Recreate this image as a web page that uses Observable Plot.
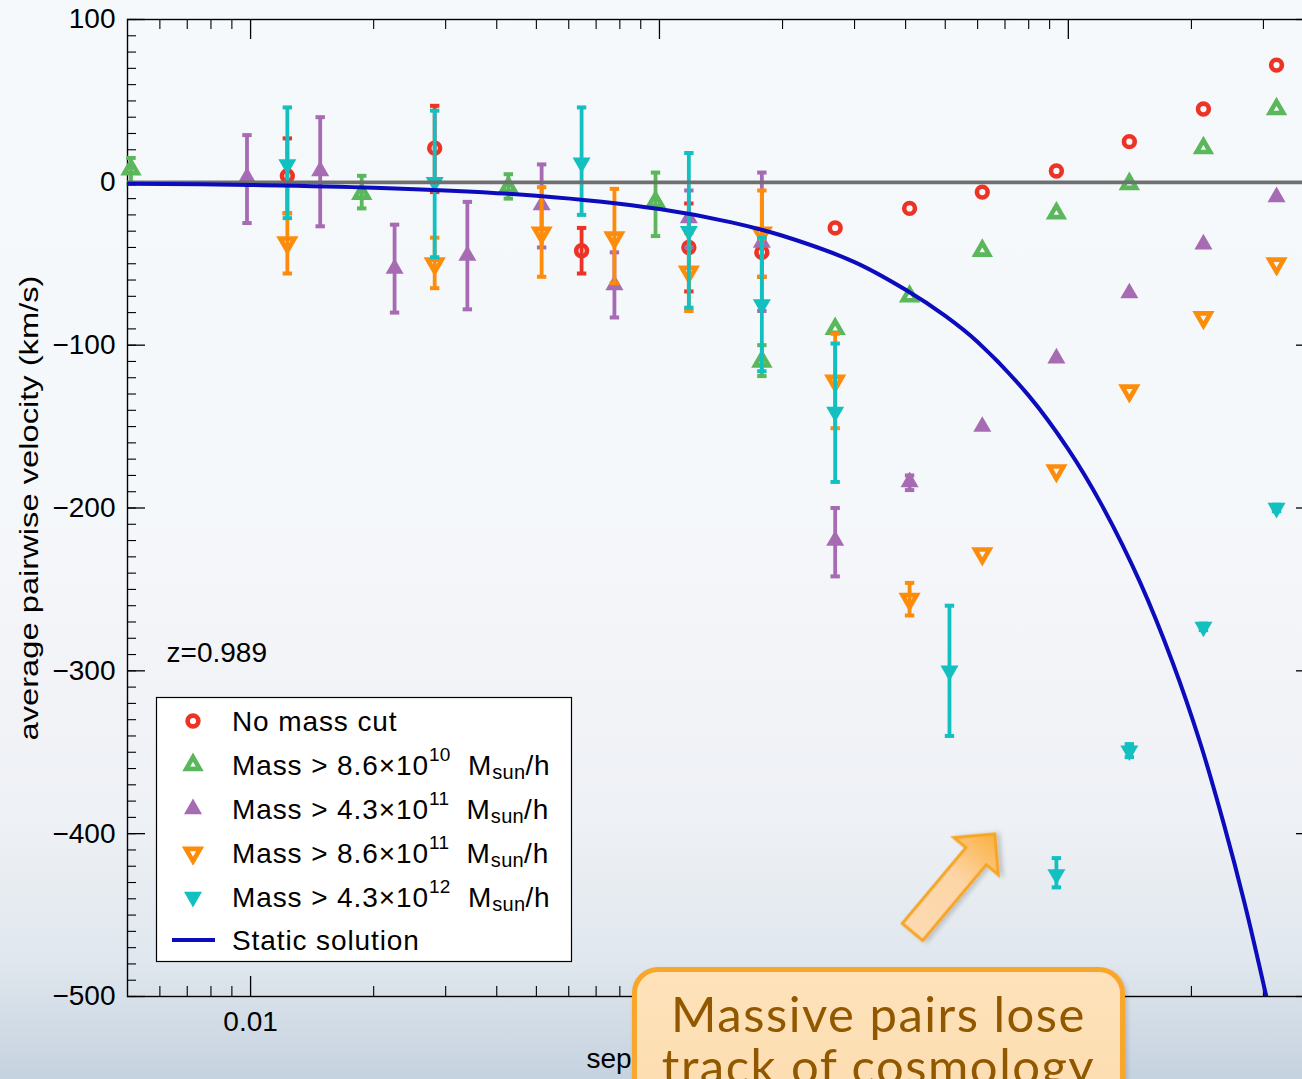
<!DOCTYPE html>
<html>
<head>
<meta charset="utf-8">
<script src="https://cdn.jsdelivr.net/npm/d3@7"></script>
<script src="https://cdn.jsdelivr.net/npm/@observablehq/plot@0.6"></script>
<style>
html, body { margin:0; padding:0; }
body {
  width:1302px; height:1079px; overflow:hidden; position:relative;
  background: linear-gradient(to bottom, #f6f9fb 0%, #f5f8fa 45%, #f3f4f8 60%, #eef1f5 76%, #e0e7ee 89%, #c5d2df 100%);
  font-family: "Liberation Sans", Arial, Helvetica, sans-serif;
}
#chart { position:absolute; left:0; top:0; width:1320px; height:1079px; }
#chart svg { max-width:none !important; width:1320px; height:1079px; }
#overlay { position:absolute; left:0; top:0; pointer-events:none; }
#callout {
  position:absolute; left:632px; top:967px; width:493px; height:170px;
  box-sizing:border-box; border:5px solid #f8a72c; border-radius:26px;
  background: linear-gradient(to bottom, #fee2ba 0%, #fddcae 100%);
  color:#925800; font-family: Lato, "Open Sans", sans-serif; font-size:49px;
  letter-spacing:1.5px;
  line-height:52px; text-align:center; padding-top:15px;
  box-shadow: 2px 3px 5px rgba(0,0,0,0.18);
}
</style>
</head>
<body>
<div id="chart"></div>
<svg id="overlay" width="1302" height="1079"></svg>
<div id="callout">Massive pairs lose<br>track of cosmology</div>
<script>
// ---------------- data ----------------
// No mass cut (red open circles)
const redSep = [0.0123, 0.0282, 0.0645, 0.118, 0.178, 0.269, 0.409, 0.616, 0.935, 1.41, 2.14, 3.23];
const redV   = [4, 21, -42, -40, -43, -28, -16, -6, 7, 25, 45, 72];
const redHi  = [27, 47, -28, -13, -34, null, null, null, null, null, null, null];
const redLo  = [-19, -6, -56, -67, -58, null, null, null, null, null, null, null];

// Mass > 8.6e10 (green open triangles)
const greenSep = [0.0051, 0.0187, 0.0427, 0.0978, 0.178, 0.269, 0.409, 0.616, 0.935, 1.41, 2.14, 3.23];
const greenV   = [8, -7, -3, -12, -110, -90, -70, -42, -19, -1, 21, 45];
const greenHi  = [15, 4, 5, 6, -100, null, null, null, null, null, null, null];
const greenLo  = [-1, -16, -10, -33, -119, null, null, null, null, null, null, null];

// Mass > 4.3e11 (purple filled triangles)
const purpleSep = [0.0098, 0.0148, 0.0225, 0.0339, 0.0515, 0.0776, 0.118, 0.178, 0.269, 0.409, 0.616, 0.935, 1.41, 2.14, 3.23];
const purpleV   = [3, 7, -53, -45, -14, -63, -22, -37, -220, -184, -150, -108, -68, -38, -9];
const purpleHi  = [29, 40, -26, -12, 11, -43, -5, 6, -200, -180, null, null, null, null, null];
const purpleLo  = [-25, -27, -80, -78, -40, -83, -40, -79, -242, -189, null, null, null, null, null];

// Mass > 8.6e11 (orange open down-triangles)
const orangeSep = [0.0123, 0.0282, 0.0515, 0.0776, 0.118, 0.178, 0.269, 0.409, 0.616, 0.935, 1.41, 2.14, 3.23];
const orangeV   = [-37, -50, -31, -34, -55, -31, -122, -256, -228, -177, -128, -83, -50];
const orangeHi  = [-19, -34, -3, -4, -31, -5, -93, -246, null, null, null, null, null];
const orangeLo  = [-56, -65, -58, -62, -79, -58, -151, -266, null, null, null, null, null];

// Mass > 4.3e12 (cyan filled down-triangles)
const cyanSep = [0.0123, 0.0282, 0.0645, 0.118, 0.178, 0.269, 0.512, 0.935, 1.41, 2.14, 3.23];
const cyanV   = [11, 0, 12, -30, -75, -141, -300, -425, -349, -273, -200];
const cyanHi  = [46, 44, 46, 18, -34, -99, -260, -415, -345, -271, -198];
const cyanLo  = [-22, -46, -20, -77, -116, -184, -340, -433, -353, -275, -202];

// Static solution (blue curve)
const staticSep = [0.005, 0.01, 0.02, 0.05, 0.1, 0.15, 0.2, 0.3, 0.4, 0.5, 0.6, 0.8, 1.0, 1.2, 1.5, 1.8, 2.1, 2.4, 2.7, 3.05];
const staticV   = [-0.8, -1.6, -3.3, -8.2, -16.4, -24.6, -32.8, -49, -66, -82, -98, -131, -164, -197, -246, -295, -344, -394, -443, -500];

// ticks
const xMajor = [0.01, 0.1, 1];
const xMinor = [0.006, 0.007, 0.008, 0.009, 0.02, 0.03, 0.04, 0.05, 0.06, 0.07, 0.08, 0.09,
                0.2, 0.3, 0.4, 0.5, 0.6, 0.7, 0.8, 0.9, 2, 3, 4];
const yMajor = [100, 0, -100, -200, -300, -400, -500];
const yMinor = d3.range(-500, 101, 10);

const colors = { red: "#ec3326", green: "#5bb75b", purple: "#a76bb4", orange: "#fe8c0b", cyan: "#13c0c0", blue: "#0c0cbd" };

// ---------------- symbols ----------------
const capSymbol = { draw(ctx) { ctx.rect(-4.7, -2, 9.4, 4); } };
const triUp = d3.symbolTriangle;
const triDown = { draw(ctx, size) {
  const y = Math.sqrt(size / (3 * Math.sqrt(3)));
  ctx.moveTo(0, 2 * y); ctx.lineTo(Math.sqrt(3) * y, -y); ctx.lineTo(-Math.sqrt(3) * y, -y); ctx.closePath();
} };

const styles = {
  red:    { symbol: "circle", r: 5.4, filled: false, sw: 4.6 },
  green:  { symbol: triUp,    r: 5.0, filled: false, sw: 4.6 },
  purple: { symbol: triUp,    r: 6.7, filled: true,  sw: 0 },
  orange: { symbol: triDown,  r: 5.3, filled: false, sw: 4.6 },
  cyan:   { symbol: triDown,  r: 6.7, filled: true,  sw: 0 }
};

function seriesMarks(sep, v, hi, lo, key) {
  const color = colors[key], st = styles[key];
  const pts = sep.map((s, i) => ({ s, v: v[i], hi: hi[i], lo: lo[i] }));
  const eb = pts.filter(d => d.hi != null);
  const caps = eb.flatMap(d => [{ s: d.s, y: d.lo }, { s: d.s, y: d.hi }]);
  return [
    Plot.ruleX(eb, { x: "s", y1: "lo", y2: "hi", stroke: color, strokeWidth: 3.8 }),
    Plot.dot(caps, { x: "s", y: "y", symbol: capSymbol, r: 4, fill: color, stroke: "none" }),
    Plot.dot(pts, { x: "s", y: "v", symbol: st.symbol, r: st.r,
      fill: st.filled ? color : "none", stroke: st.filled ? "none" : color, strokeWidth: st.sw })
  ];
}

// ---------------- layout ----------------
const W = 1320, H = 1079;
const X0 = 127, X1 = 1314, Y0 = 19, Y1 = 996;
const PW = X1 - X0, PH = Y1 - Y0;
const yTitle = "average pairwise velocity (km/s)";

const chart = Plot.plot({
  width: W, height: H,
  marginLeft: X0, marginRight: W - X1, marginTop: Y0, marginBottom: H - Y1,
  x: { type: "log", domain: [0.005, 4] },
  y: { domain: [-500, 100] },
  style: { background: "transparent", fontFamily: "'Liberation Sans', Arial, Helvetica, sans-serif", fontSize: "28px", color: "#000", maxWidth: "none" },
  marks: [
    Plot.frame({ stroke: "#000", strokeWidth: 1.4 }),
    // x ticks (inward, bottom and top)
    Plot.tickX(xMajor, { x: d => d, insetTop: PH - 20, stroke: "#000", strokeWidth: 1.3 }),
    Plot.tickX(xMajor, { x: d => d, insetBottom: PH - 20, stroke: "#000", strokeWidth: 1.3 }),
    Plot.tickX(xMinor, { x: d => d, insetTop: PH - 10, stroke: "#000", strokeWidth: 1.1 }),
    Plot.tickX(xMinor, { x: d => d, insetBottom: PH - 10, stroke: "#000", strokeWidth: 1.1 }),
    // y ticks (inward, left and right)
    Plot.tickY(yMajor, { y: d => d, insetRight: PW - 18, stroke: "#000", strokeWidth: 1.3 }),
    Plot.tickY(yMajor, { y: d => d, insetLeft: PW - 18, stroke: "#000", strokeWidth: 1.3 }),
    Plot.tickY(yMinor, { y: d => d, insetRight: PW - 9, stroke: "#000", strokeWidth: 1.1 }),
    Plot.tickY(yMinor, { y: d => d, insetLeft: PW - 9, stroke: "#000", strokeWidth: 1.1 }),
    Plot.axisX(xMajor, { anchor: "bottom", tickSize: 0, tickPadding: 15, tickFormat: d => String(d), label: null }),
    Plot.axisY(yMajor, { anchor: "left", tickSize: 0, tickPadding: 12, tickFormat: d3.format("d"), label: null }),
    // data
    ...seriesMarks(redSep, redV, redHi, redLo, "red"),
    ...seriesMarks(greenSep, greenV, greenHi, greenLo, "green"),
    ...seriesMarks(purpleSep, purpleV, purpleHi, purpleLo, "purple"),
    ...seriesMarks(orangeSep, orangeV, orangeHi, orangeLo, "orange"),
    ...seriesMarks(cyanSep, cyanV, cyanHi, cyanLo, "cyan"),
    Plot.ruleY([0], { stroke: "#6f6f6f", strokeWidth: 3.6 }),
    Plot.line(staticSep.map((s, i) => ({ s, v: staticV[i] })), { x: "s", y: "v", stroke: colors.blue, strokeWidth: 4, curve: "catmull-rom", clip: true }),
    // labels
    Plot.text(["z=0.989"], { x: 0.00623, y: -289, text: d => d, textAnchor: "start", fontSize: 28 }),
    Plot.text(["separation (Mpc/h)"], { x: 0.0663, frameAnchor: "bottom", dy: 71, text: d => d, textAnchor: "start", fontSize: 28 }),
    Plot.text([yTitle], { frameAnchor: "left", dx: -98, rotate: -90, text: d => d, textAnchor: "middle", fontSize: 26 })
  ]
});
chart.style.maxWidth = "none";
document.getElementById("chart").appendChild(chart);
chart.querySelectorAll("text").forEach(t => {
  if (t.textContent === yTitle) { t.setAttribute("textLength", 465); t.setAttribute("lengthAdjust", "spacingAndGlyphs"); }
});

// ---------------- legend + arrow overlay ----------------
const ov = d3.select("#overlay");
const lg = ov.append("g");
lg.append("rect").attr("x", 156.5).attr("y", 697.5).attr("width", 415).attr("height", 264)
  .attr("fill", "#fff").attr("stroke", "#000").attr("stroke-width", 1.2);

const legendKeys = ["red", "green", "purple", "orange", "cyan", "blue"];
const legendLabels = [
  [["No mass cut", 0]],
  [["Mass > 8.6×10", 0], ["10", 1], ["  M", 0], ["sun", 2], ["/h", 0]],
  [["Mass > 4.3×10", 0], ["11", 1], ["  M", 0], ["sun", 2], ["/h", 0]],
  [["Mass > 8.6×10", 0], ["11", 1], ["  M", 0], ["sun", 2], ["/h", 0]],
  [["Mass > 4.3×10", 0], ["12", 1], ["  M", 0], ["sun", 2], ["/h", 0]],
  [["Static solution", 0]]
];
const rowY = [721, 765, 809, 853, 897, 940];
legendKeys.forEach((k, i) => {
  const cy = rowY[i];
  if (k === "blue") {
    lg.append("line").attr("x1", 172).attr("x2", 215).attr("y1", cy).attr("y2", cy)
      .attr("stroke", colors.blue).attr("stroke-width", 4);
  } else {
    const st = styles[k];
    const sym = st.symbol === "circle" ? d3.symbolCircle : st.symbol;
    lg.append("path").attr("transform", `translate(193,${cy})`)
      .attr("d", d3.symbol(sym, Math.PI * st.r * st.r)())
      .attr("fill", st.filled ? colors[k] : "none")
      .attr("stroke", st.filled ? "none" : colors[k])
      .attr("stroke-width", st.sw);
  }
  const t = lg.append("text").attr("x", 232).attr("y", cy + 10)
    .attr("font-size", 28).attr("letter-spacing", 0.9).attr("fill", "#000")
    .attr("font-family", "'Liberation Sans', Arial, Helvetica, sans-serif")
    .style("white-space", "pre");
  let shift = 0;
  legendLabels[i].forEach(([txt, kind]) => {
    const target = kind === 1 ? -14 : kind === 2 ? 4 : 0;
    const ts = t.append("tspan").attr("dy", target - shift).text(txt);
    if (kind) ts.attr("font-size", kind === 1 ? 19 : 20).attr("letter-spacing", 0.3);
    shift = target;
  });
});

// arrow annotation
const defs = ov.append("defs");
const grad = defs.append("linearGradient").attr("id", "ag").attr("x1", 0).attr("x2", 1).attr("y1", 0).attr("y2", 0);
grad.append("stop").attr("offset", 0).attr("stop-color", "#fddab3");
grad.append("stop").attr("offset", 0.55).attr("stop-color", "#fdd5a6");
grad.append("stop").attr("offset", 1).attr("stop-color", "#fbb040");
const flt = defs.append("filter").attr("id", "sh").attr("x", "-20%").attr("y", "-20%").attr("width", "150%").attr("height", "150%");
flt.append("feDropShadow").attr("dx", 2).attr("dy", 3).attr("stdDeviation", 2.5).attr("flood-color", "#000").attr("flood-opacity", 0.2);
ov.append("g").attr("transform", "translate(912.5,932) rotate(-50)")
  .append("polygon").attr("points", "0,-13.3 99,-13.3 99,-29 128,0 99,29 99,13.3 0,13.3")
  .attr("fill", "url(#ag)").attr("stroke", "#f6a422").attr("stroke-width", 3).attr("filter", "url(#sh)");
</script>
</body>
</html>
